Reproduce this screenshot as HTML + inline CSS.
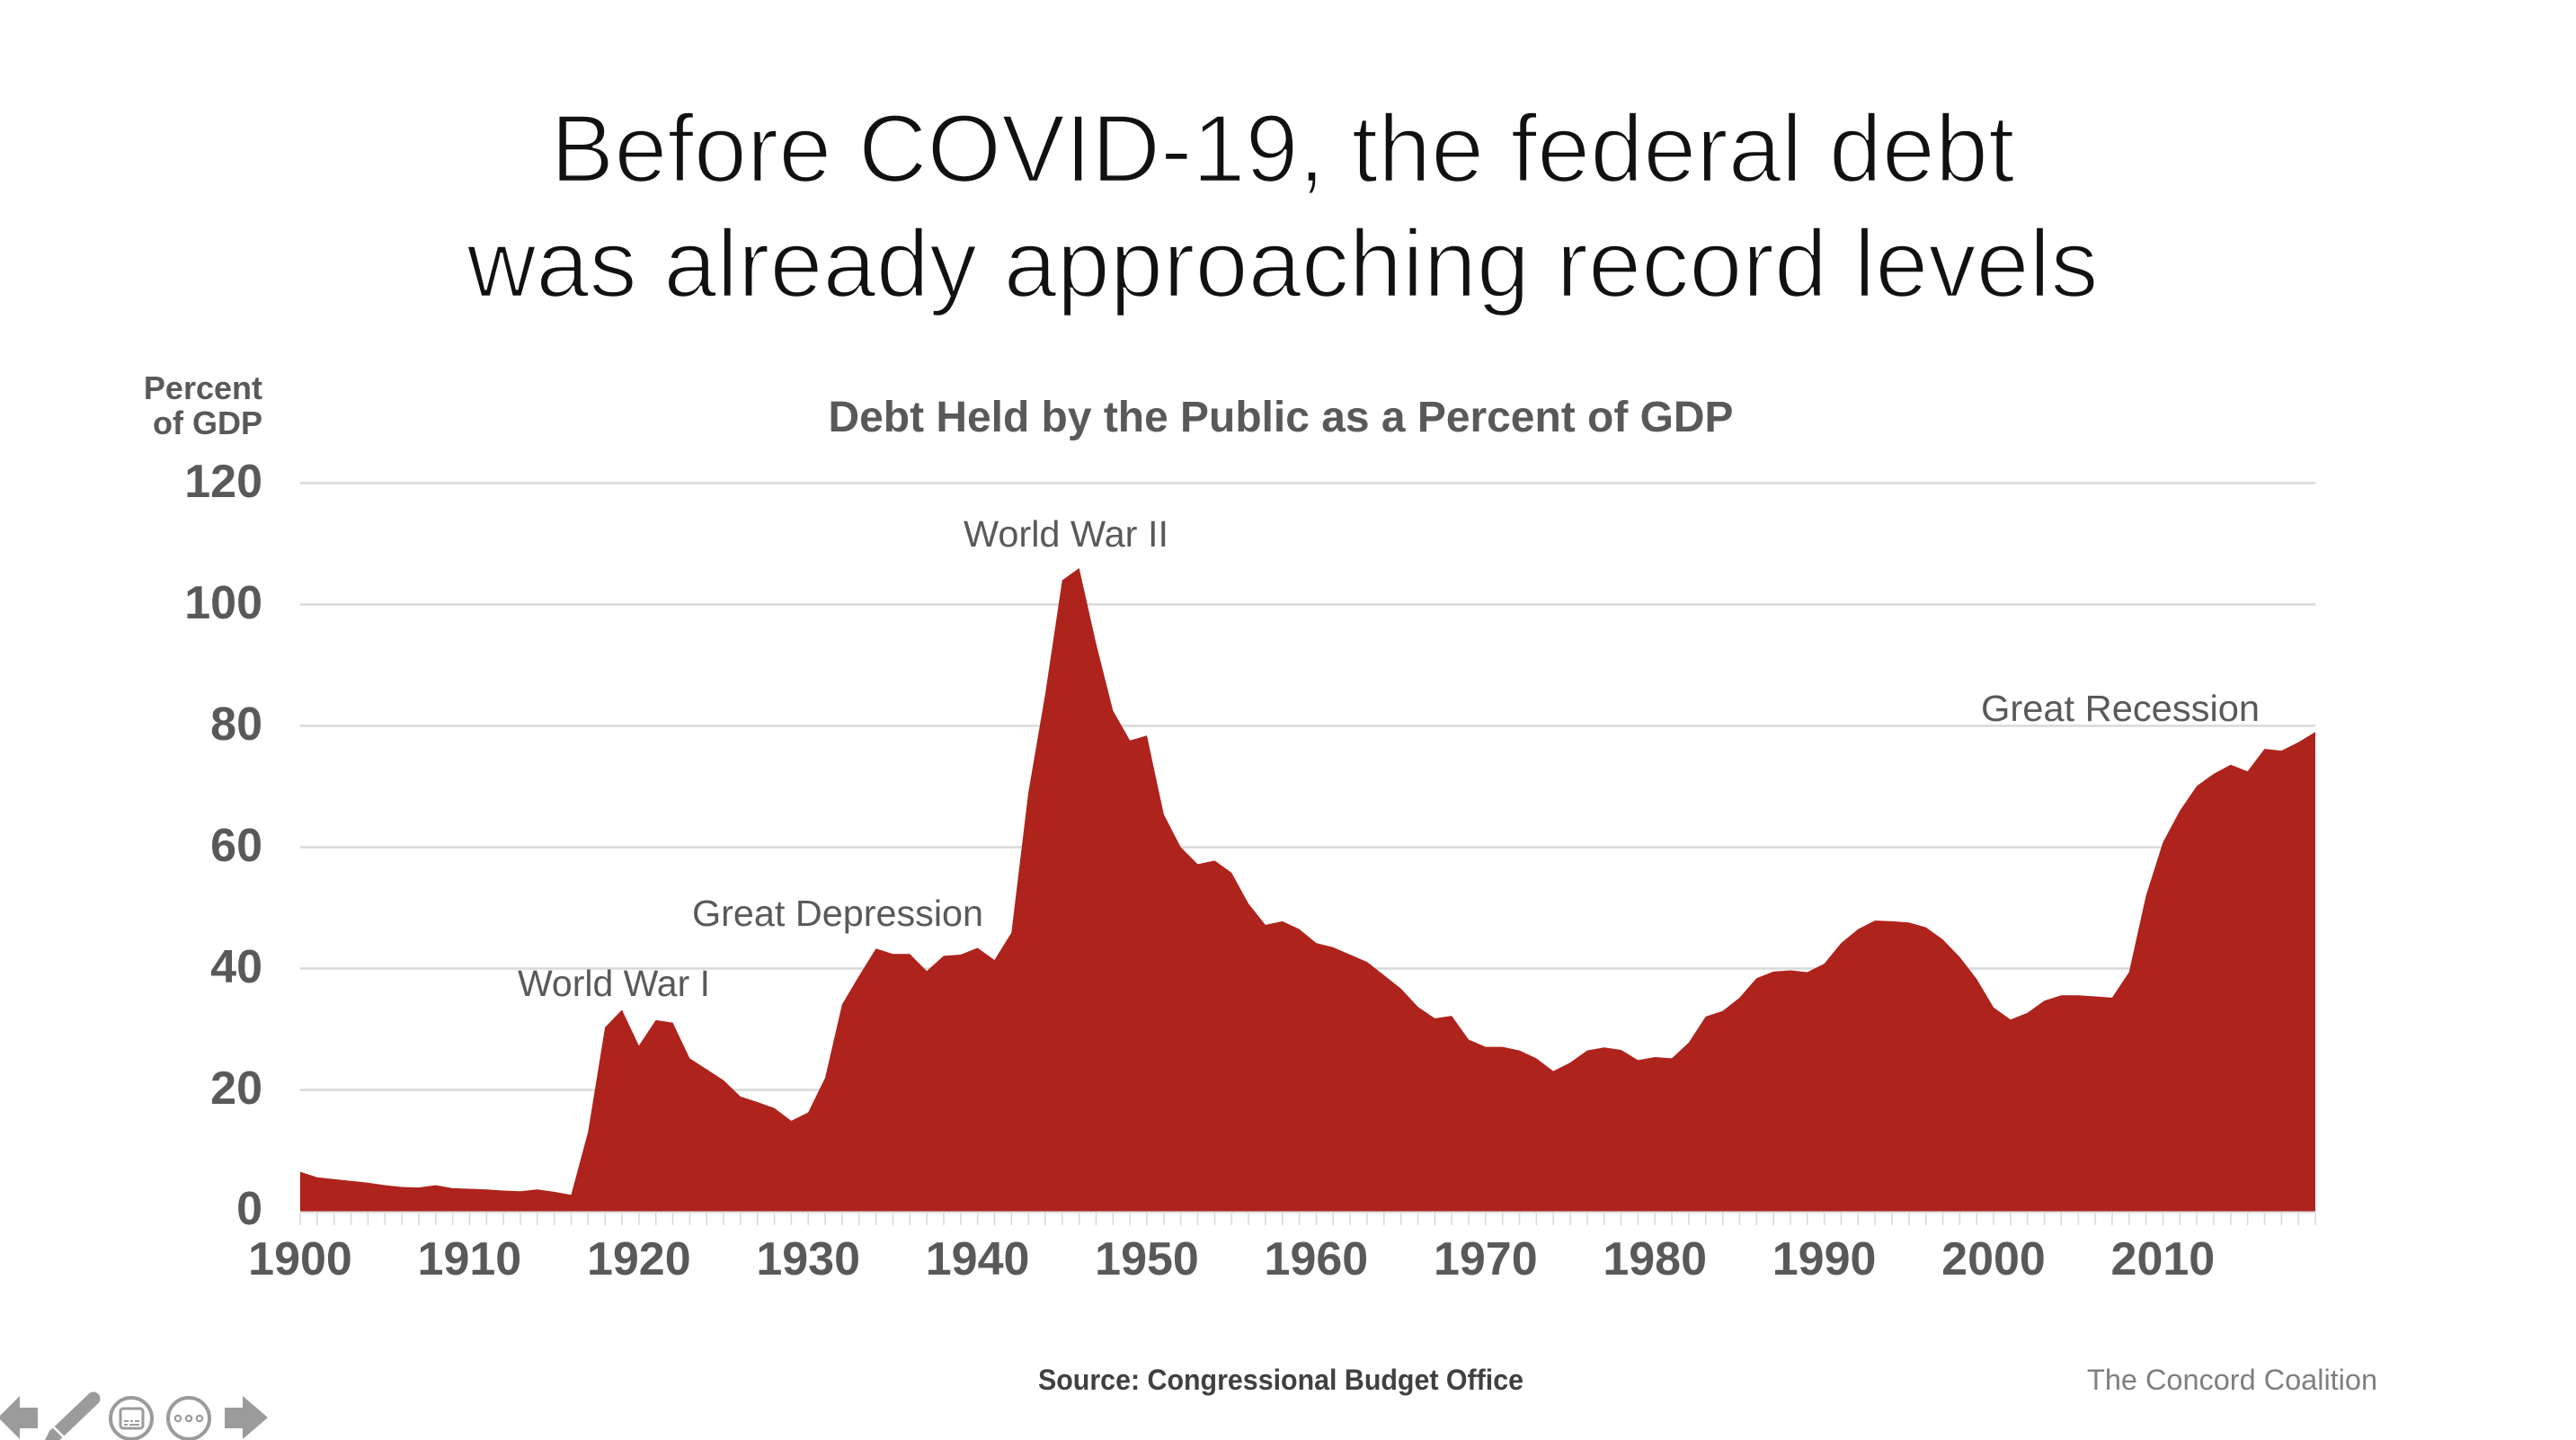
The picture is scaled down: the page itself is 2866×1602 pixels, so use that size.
<!DOCTYPE html>
<html>
<head>
<meta charset="utf-8">
<style>
  html, body { margin: 0; padding: 0; background: #ffffff; }
  body { width: 2866px; height: 1602px; overflow: hidden; }
  svg { display: block; }
  text { font-family: "Liberation Sans", Arial, sans-serif; }
</style>
</head>
<body>
<svg width="2866" height="1602" viewBox="0 0 2866 1602" xmlns="http://www.w3.org/2000/svg">
  <defs>
    <pattern id="ticks" patternUnits="userSpaceOnUse" x="333.25" y="1349" width="18.84" height="14">
      <rect x="0" y="0" width="1.6" height="14" fill="#d9d9d9"/>
    </pattern>
  </defs>
  <rect x="0" y="0" width="2866" height="1602" fill="#ffffff"/>

  <!-- Slide title (thinned with white stroke to mimic a light face) -->
  <g fill="#111111" stroke="#ffffff" stroke-width="2.6" paint-order="fill">
    <text x="1427" y="202" text-anchor="middle" font-size="107" textLength="1629" lengthAdjust="spacingAndGlyphs">Before COVID-19, the federal debt</text>
    <text x="1427" y="330" text-anchor="middle" font-size="107" textLength="1815" lengthAdjust="spacingAndGlyphs">was already approaching record levels</text>
  </g>

  <!-- Chart title -->
  <text x="1425" y="480" text-anchor="middle" font-size="48" font-weight="bold" fill="#595959" textLength="1007" lengthAdjust="spacingAndGlyphs">Debt Held by the Public as a Percent of GDP</text>

  <!-- Y axis caption -->
  <text x="292" y="444" text-anchor="end" font-size="36" font-weight="bold" fill="#595959">Percent</text>
  <text x="292" y="483" text-anchor="end" font-size="36" font-weight="bold" fill="#595959">of GDP</text>

  <!-- Gridlines -->
  <g stroke="#d9d9d9" stroke-width="2.5">
    <line x1="334" y1="537.5" x2="2576" y2="537.5"/>
    <line x1="334" y1="672.5" x2="2576" y2="672.5"/>
    <line x1="334" y1="807.5" x2="2576" y2="807.5"/>
    <line x1="334" y1="942.5" x2="2576" y2="942.5"/>
    <line x1="334" y1="1077.5" x2="2576" y2="1077.5"/>
    <line x1="334" y1="1212.5" x2="2576" y2="1212.5"/>
  </g>

  <!-- Y labels -->
  <g font-size="52" font-weight="bold" fill="#595959" text-anchor="end">
    <text x="292" y="553">120</text>
    <text x="292" y="688">100</text>
    <text x="292" y="823">80</text>
    <text x="292" y="958">60</text>
    <text x="292" y="1093">40</text>
    <text x="292" y="1228">20</text>
    <text x="292" y="1362">0</text>
  </g>

  <!-- Area series -->
  <g transform="translate(334,1347.5) scale(18.84,-6.75)">
    <polygon fill="#ae231b" points="0,0 0,6.5 1,5.6 2,5.3 3,5.0 4,4.7 5,4.3 6,4.0 7,3.9 8,4.3 9,3.8 10,3.7 11,3.6 12,3.4 13,3.3 14,3.6 15,3.2 16,2.7 17,13.1 18,30.3 19,33.2 20,27.3 21,31.5 22,31.1 23,25.2 24,23.4 25,21.6 26,18.9 27,18.0 28,17.0 29,14.9 30,16.3 31,22.0 32,34.1 33,38.8 34,43.3 35,42.4 36,42.4 37,39.6 38,42.1 39,42.3 40,43.4 41,41.4 42,45.9 43,69.0 44,85.3 45,104.0 46,106.0 47,93.6 48,82.5 49,77.6 50,78.4 51,65.4 52,60.0 53,57.2 54,57.8 55,55.8 56,50.7 57,47.2 58,47.8 59,46.5 60,44.2 61,43.5 62,42.3 63,41.1 64,38.9 65,36.7 66,33.7 67,31.8 68,32.2 69,28.3 70,27.1 71,27.1 72,26.5 73,25.2 74,23.1 75,24.5 76,26.5 77,27.0 78,26.6 79,24.9 80,25.4 81,25.2 82,27.8 83,32.1 84,33.0 85,35.2 86,38.4 87,39.5 88,39.7 89,39.4 90,40.8 91,44.2 92,46.5 93,47.9 94,47.8 95,47.6 96,46.8 97,44.8 98,41.9 99,38.3 100,33.6 101,31.6 102,32.7 103,34.7 104,35.6 105,35.6 106,35.4 107,35.2 108,39.4 109,52.0 110,60.8 111,66.0 112,70.1 113,72.1 114,73.6 115,72.5 116,76.2 117,75.9 118,77.3 119,79.0 119,0"/>
  </g>

  <!-- X axis line and ticks -->
  <line x1="334" y1="1348.5" x2="2576" y2="1348.5" stroke="#d9d9d9" stroke-width="2"/>
  <rect x="333" y="1349" width="2245" height="14" fill="url(#ticks)"/>

  <!-- X labels -->
  <g font-size="52" font-weight="bold" fill="#595959" text-anchor="middle">
    <text x="334" y="1418">1900</text>
    <text x="522.4" y="1418">1910</text>
    <text x="710.8" y="1418">1920</text>
    <text x="899.2" y="1418">1930</text>
    <text x="1087.6" y="1418">1940</text>
    <text x="1276" y="1418">1950</text>
    <text x="1464.4" y="1418">1960</text>
    <text x="1652.8" y="1418">1970</text>
    <text x="1841.2" y="1418">1980</text>
    <text x="2029.6" y="1418">1990</text>
    <text x="2218" y="1418">2000</text>
    <text x="2406.4" y="1418">2010</text>
  </g>

  <!-- Annotations -->
  <g font-size="41" fill="#595959">
    <text x="1072" y="608" textLength="228" lengthAdjust="spacingAndGlyphs">World War II</text>
    <text x="770" y="1030" textLength="324" lengthAdjust="spacingAndGlyphs">Great Depression</text>
    <text x="576" y="1108" textLength="214" lengthAdjust="spacingAndGlyphs">World War I</text>
    <text x="2204" y="802" textLength="310" lengthAdjust="spacingAndGlyphs">Great Recession</text>
  </g>

  <!-- Footer -->
  <text x="1155" y="1546" font-size="32" font-weight="bold" fill="#404040" textLength="540" lengthAdjust="spacingAndGlyphs">Source: Congressional Budget Office</text>
  <text x="2322" y="1546" font-size="32" fill="#7f7f7f" textLength="323" lengthAdjust="spacingAndGlyphs">The Concord Coalition</text>

  <!-- Slideshow control icons -->
  <g fill="#9b9b9b" stroke="none">
    <polygon points="42,1566 22,1566 22,1553 -2,1577 22,1601 22,1589 42,1589"/>
    <polygon points="250,1566 270,1566 270,1553 298,1577 270,1601 270,1589 250,1589"/>
  </g>
  <g>
    <line x1="62" y1="1596" x2="104" y2="1556" stroke="#9b9b9b" stroke-width="15" stroke-linecap="round"/>
    <line x1="58" y1="1586" x2="72" y2="1600" stroke="#ffffff" stroke-width="2.5"/>
    <polygon points="50,1602 56,1590 64,1598 58,1602" fill="#9b9b9b"/>
  </g>
  <g fill="none" stroke="#9b9b9b" stroke-width="4">
    <circle cx="146" cy="1578" r="23"/>
    <circle cx="210" cy="1578" r="23"/>
  </g>
  <rect x="134" y="1567" width="25" height="22" rx="3" fill="none" stroke="#9b9b9b" stroke-width="3"/>
  <g stroke="#9b9b9b" stroke-width="2">
    <line x1="138" y1="1581" x2="143" y2="1581"/>
    <line x1="145" y1="1581" x2="148" y2="1581"/>
    <line x1="150" y1="1581" x2="155" y2="1581"/>
    <line x1="138" y1="1585" x2="142" y2="1585"/>
    <line x1="144" y1="1585" x2="155" y2="1585"/>
  </g>
  <g fill="none" stroke="#9b9b9b" stroke-width="2.2">
    <circle cx="198" cy="1578" r="3.2"/>
    <circle cx="210" cy="1578" r="3.2"/>
    <circle cx="222" cy="1578" r="3.2"/>
  </g>
</svg>
</body>
</html>
